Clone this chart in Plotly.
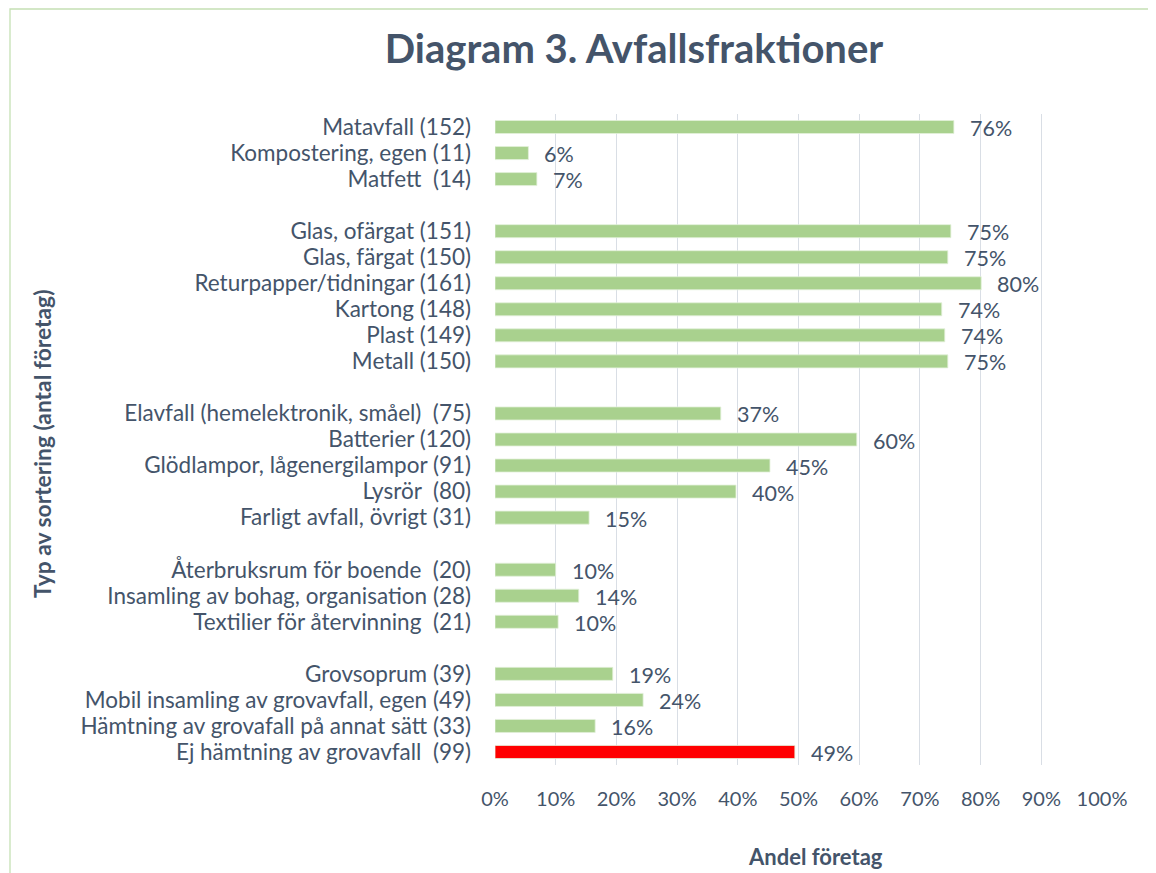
import plotly.graph_objects as go

categories = [
    "Matavfall (152)", "Kompostering, egen (11)", "Matfett  (14)", " ",
    "Glas, ofärgat (151)", "Glas, färgat (150)", "Returpapper/tidningar (161)",
    "Kartong (148)", "Plast (149)", "Metall (150)", "  ",
    "Elavfall (hemelektronik, småel)  (75)", "Batterier (120)",
    "Glödlampor, lågenergilampor (91)", "Lysrör  (80)", "Farligt avfall, övrigt (31)", "   ",
    "Återbruksrum för boende  (20)", "Insamling av bohag, organisation (28)",
    "Textilier för återvinning  (21)", "    ",
    "Grovsoprum (39)", "Mobil insamling av grovavfall, egen (49)",
    "Hämtning av grovafall på annat sätt (33)", "Ej hämtning av grovavfall  (99)",
]
values = [
    0.756, 0.055, 0.069, None,
    0.751, 0.746, 0.801, 0.736, 0.741, 0.746, None,
    0.372, 0.596, 0.453, 0.397, 0.155, None,
    0.100, 0.138, 0.104, None,
    0.194, 0.244, 0.165, 0.494,
]
labels = [
    "76%", "6%", "7%", "",
    "75%", "75%", "80%", "74%", "74%", "75%", "",
    "37%", "60%", "45%", "40%", "15%", "",
    "10%", "14%", "10%", "",
    "19%", "24%", "16%", "49%",
]
highlight = "Ej hämtning av grovavfall  (99)"

cats = [c for c, v in zip(categories, values) if v is not None]
vals = [v for v in values if v is not None]
labs = [l for l, v in zip(labels, values) if v is not None]
colors = ["#FF0000" if c == highlight else "#A9D18E" for c in cats]

TXT = "#44546A"
FONT = "Lato, 'Open Sans', sans-serif"

# page body has an 8px margin; size the figure so it fits the window
OFF = 8
FW, FH = 1156 - OFF, 873 - OFF
W0, W1, H0, H1 = 495, 1102, 114, 765  # plot area in screen px


def px_x(p):
    return (p - W0) / (W1 - W0)


def px_y(p):
    return (H1 - p) / (H1 - H0)


fig = go.Figure()
fig.add_trace(go.Bar(
    x=vals, y=cats, orientation="h", width=0.5,
    marker=dict(color=colors, line=dict(color="#E2F0D9", width=0.8)),
    hoverinfo="skip",
))

anns = []
for c, v, l in zip(cats, vals, labs):
    anns.append(dict(x=v, y=c, xref="x", yref="y", text=l, showarrow=False,
                     xanchor="left", yanchor="middle", xshift=14, yshift=-1,
                     font=dict(family=FONT, size=21.5, color=TXT)))

anns.append(dict(text="<b>Andel företag</b>", x=px_x(815), y=px_y(857),
                 xref="paper", yref="paper", showarrow=False,
                 xanchor="center", yanchor="middle",
                 font=dict(family=FONT, size=22, color=TXT)))
anns.append(dict(text="<b>Typ av sortering (antal företag)</b>",
                 x=px_x(42), y=px_y(444), xref="paper", yref="paper",
                 textangle=-90, showarrow=False, xanchor="center", yanchor="middle",
                 font=dict(family=FONT, size=22.8, color=TXT)))

fig.update_layout(
    width=FW, height=FH,
    margin=dict(l=W0 - OFF, r=1156 - W1, t=H0 - OFF, b=873 - H1),
    paper_bgcolor="white", plot_bgcolor="white",
    showlegend=False,
    font=dict(family=FONT, color=TXT),
    title=dict(text="<b>Diagram 3. Avfallsfraktioner</b>",
               x=(634 - OFF) / FW, xanchor="center",
               y=1 - (49 - OFF) / FH, yanchor="middle",
               font=dict(family=FONT, size=40, color=TXT)),
    xaxis=dict(range=[0, 1], tickvals=[i / 10 for i in range(11)], tickformat=".0%",
               showgrid=True, gridcolor="#D9DEE5", gridwidth=1.3, zeroline=False,
               showline=False, ticks="", ticklabelstandoff=20,
               tickfont=dict(family=FONT, size=20, color=TXT)),
    yaxis=dict(categoryorder="array", categoryarray=categories,
               tickmode="array", tickvals=categories, ticktext=categories,
               range=[len(categories) - 0.5, -0.5],
               showgrid=False, zeroline=False, showline=False, ticks="",
               ticklabelstandoff=23,
               tickfont=dict(family=FONT, size=22.5, color=TXT)),
    annotations=anns,
)

fig.add_shape(type="rect", xref="paper", yref="paper",
              x0=px_x(10), x1=px_x(1175), y0=px_y(9), y1=px_y(895),
              line=dict(color="#C5E0B4", width=1.3), fillcolor="rgba(0,0,0,0)",
              layer="below")

fig.write_html("out.html")
